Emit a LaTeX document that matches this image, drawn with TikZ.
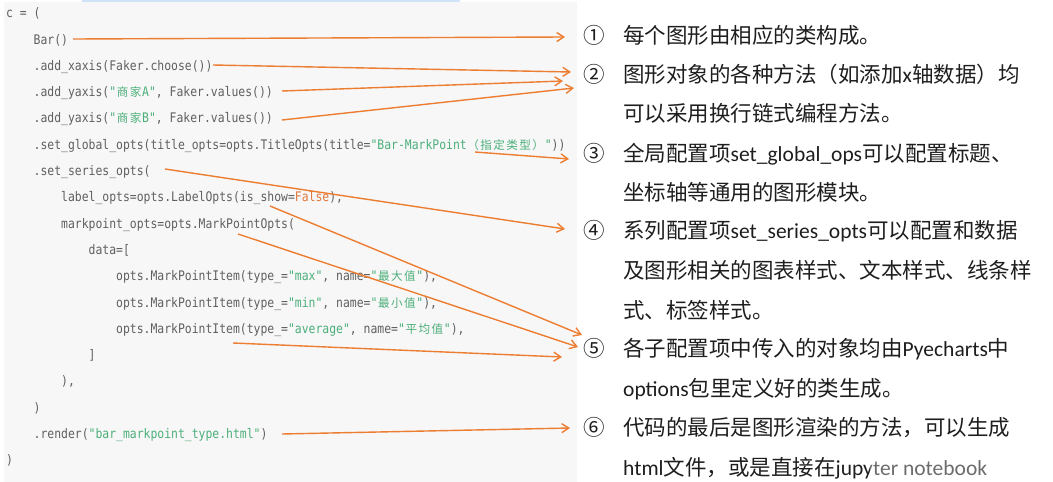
\documentclass[tikz,border=0pt]{standalone}
\usepackage{fontspec}
\setmainfont{Carlito}
\newfontfamily\cjk{Noto Sans CJK SC}
\newfontfamily\lat{Carlito}
\newfontfamily\codefont[FakeStretch=0.865]{DejaVu Sans Mono}
\usetikzlibrary{arrows.meta}
\definecolor{codegray}{RGB}{96,96,96}
\definecolor{codegreen}{RGB}{76,175,122}
\definecolor{codeorange}{RGB}{224,120,60}
\definecolor{arrowor}{RGB}{237,125,49}
\definecolor{bggray}{RGB}{247,247,247}
\definecolor{topblue}{RGB}{207,226,248}
\definecolor{txtdark}{RGB}{30,30,30}
\newcommand\str[1]{\textcolor{codegreen}{#1}}
\newcommand\zh[1]{\makebox[13pt]{\cjk\fontsize{11.6}{12}\selectfont #1}}
\tikzset{
  codeline/.style={anchor=west, inner sep=0pt, text=codegray,
    font=\codefont\fontsize{13.2}{14}\selectfont, text height=11pt, text depth=1.5pt},
  rtext/.style={anchor=west, inner sep=0pt, text=txtdark,
    font=\cjk\fontsize{21.5}{25}\selectfont, text height=17pt, text depth=0.6pt},
  numb/.style={anchor=center, inner sep=0pt, text=txtdark,
    font=\cjk\fontsize{21.5}{25}\selectfont, text height=17pt, text depth=0.6pt},
  arr/.style={draw=arrowor, line width=1.4pt,
    -{Straight Barb[length=7pt,width=9pt,line width=1.4pt]}}
}
\begin{document}
\begin{tikzpicture}[x=1pt,y=-1pt]
\useasboundingbox (0,0) rectangle (1053,482);
\fill[bggray] (4,2) rectangle (577,482);
\fill[topblue] (82,0) rectangle (460,2);
% code
\node[codeline] (c0) at (6,13) {c = (};
\node[codeline] (c1) at (33.5,39.3) {Bar()};
\node[codeline] (c2) at (33.5,65.6) {.add\_xaxis(Faker.choose())};
\node[codeline] (c3) at (33.5,91.9) {.add\_yaxis(\str{"\zh{商}\zh{家}A"}, Faker.values())};
\node[codeline] (c4) at (33.5,118.2) {.add\_yaxis(\str{"\zh{商}\zh{家}B"}, Faker.values())};
\node[codeline] (c5) at (33.5,144.5) {.set\_global\_opts(title\_opts=opts.TitleOpts(title=\str{"Bar-MarkPoint\zh{（}\zh{指}\zh{定}\zh{类}\zh{型}\zh{）}"}))};
\node[codeline] (c6) at (33.5,170.8) {.set\_series\_opts(};
\node[codeline] (c7) at (61,197.1) {label\_opts=opts.LabelOpts(is\_show=\textcolor{codeorange}{False}),};
\node[codeline] (c8) at (61,223.4) {markpoint\_opts=opts.MarkPointOpts(};
\node[codeline] (c9) at (88.5,249.7) {data=[};
\node[codeline] (c10) at (116,276) {opts.MarkPointItem(type\_=\str{"max"}, name=\str{"\zh{最}\zh{大}\zh{值}"}),};
\node[codeline] (c11) at (116,302.3) {opts.MarkPointItem(type\_=\str{"min"}, name=\str{"\zh{最}\zh{小}\zh{值}"}),};
\node[codeline] (c12) at (116,328.6) {opts.MarkPointItem(type\_=\str{"average"}, name=\str{"\zh{平}\zh{均}\zh{值}"}),};
\node[codeline] (c13) at (88.5,354.9) {]};
\node[codeline] (c14) at (61,381.2) {),};
\node[codeline] (c15) at (33.5,407.5) {)};
\node[codeline] (c16) at (33.5,433.8) {.render(\str{"bar\_markpoint\_type.html"})};
\node[codeline] (c17) at (6,460.1) {)};
% numbers
\node[numb] (n1) at (594,35) {①};
\node[numb] (n2) at (594,74) {②};
\node[numb] (n3) at (594,153) {③};
\node[numb] (n4) at (594,230) {④};
\node[numb] (n5) at (594,348) {⑤};
\node[numb] (n6) at (594,427) {⑥};
% right text
\node[rtext] (t1) at (623,35) {每个图形由相应的类构成。};
\node[rtext] (t2) at (623,74) {图形对象的各种方法（如添加{\lat x}轴数据）均};
\node[rtext] (t3) at (623,113) {可以采用换行链式编程方法。};
\node[rtext] (t4) at (623,153) {全局配置项{\lat set\_global\_ops}可以配置标题、};
\node[rtext] (t5) at (623,192) {坐标轴等通用的图形模块。};
\node[rtext] (t6) at (623,230) {系列配置项{\lat set\_series\_opts}可以配置和数据};
\node[rtext] (t7) at (623,270) {及图形相关的图表样式、文本样式、线条样};
\node[rtext] (t8) at (623,310) {式、标签样式。};
\node[rtext] (t9) at (623,348) {各子配置项中传入的对象均由{\lat Pyecharts}中};
\node[rtext] (t10) at (623,388) {{\lat options}包里定义好的类生成。};
\node[rtext] (t11) at (623,427) {代码的最后是图形渲染的方法，可以生成};
\node[rtext] (t12) at (623,467) {{\lat html}文件，或是直接在{\lat jupyter notebook}};
\fill[white, opacity=0.35] (870,450) rectangle (1032,482);
% arrow end points
\coordinate (s1) at (73,39);   \coordinate (e1) at (565,37);
\coordinate (s2) at (213,65);  \coordinate (e2) at (571,72);
\coordinate (s3) at (282,91);  \coordinate (e3) at (563,81);
\coordinate (s4) at (282,120); \coordinate (e4) at (574,88);
\coordinate (s5) at (475,152); \coordinate (e5) at (569,159);
\coordinate (s6) at (165,169); \coordinate (e6) at (565,229);
\coordinate (s7) at (270,206); \coordinate (e7) at (582,335);
\coordinate (s8) at (238,234); \coordinate (e8) at (578,347);
\coordinate (s9) at (233,343); \coordinate (e9) at (562,357);
\coordinate (s10) at (282,434); \coordinate (e10) at (570,428);
\foreach \i in {1,...,10} { \draw[arr] (s\i) -- (e\i); }
\end{tikzpicture}
\end{document}
